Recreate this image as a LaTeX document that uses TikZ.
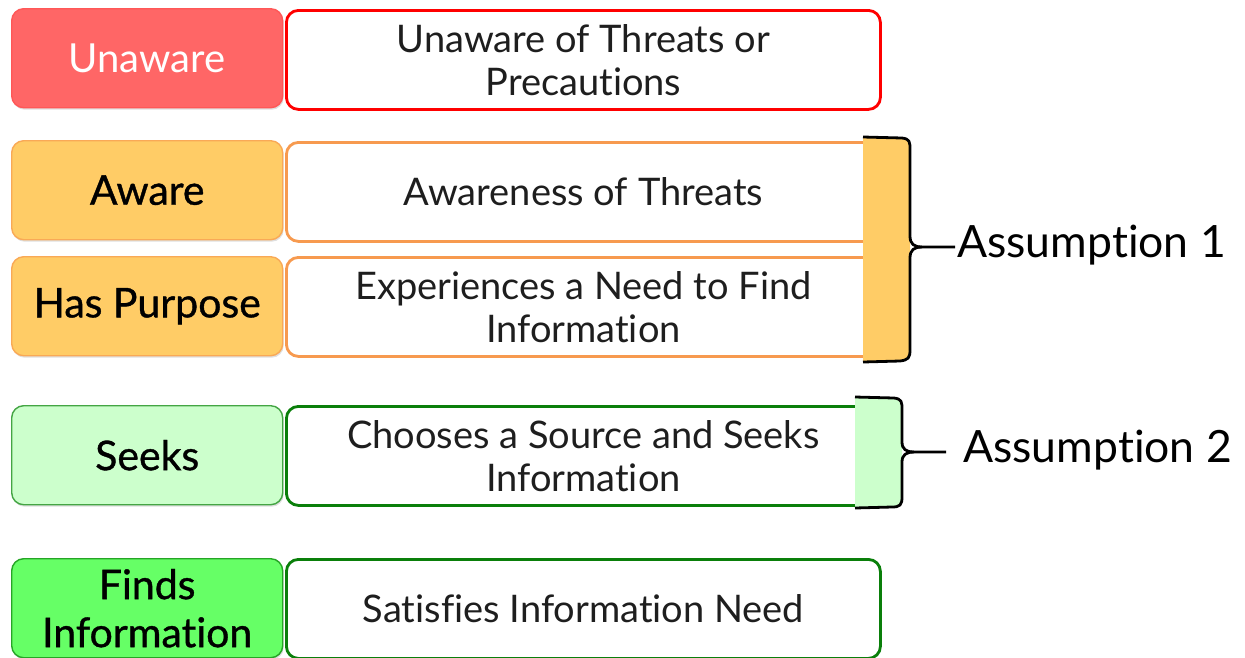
\documentclass[tikz,border=0pt]{standalone}
\usepackage{fontspec}
\setmainfont{Lato}[Ligatures=NoCommon]
\newfontfamily\medfont[FakeBold=0.9,Ligatures=NoCommon]{Lato}
\usetikzlibrary{shadows}
\definecolor{redfill}{HTML}{FF6666}
\definecolor{redline}{HTML}{FF0000}
\definecolor{orfill}{HTML}{FFCC66}
\definecolor{orline}{HTML}{F79A4F}
\definecolor{lgfill}{HTML}{CCFFCC}
\definecolor{gfill}{HTML}{66FF66}
\definecolor{gline}{HTML}{0A7F0A}
\definecolor{txt}{HTML}{1E1E1E}
\begin{document}
\begin{tikzpicture}[x=1pt,y=-1pt,
  stage/.style={draw, line width=1.4pt, rounded corners=12pt, anchor=north west,
    minimum width=271pt, minimum height=99pt, inner sep=0pt, align=center,
    text=black, font=\medfont\fontsize{41}{48}\selectfont,
    drop shadow={shadow xshift=1pt, shadow yshift=-2pt, opacity=0.25}},
  desc/.style={draw, line width=2.8pt, rounded corners=12pt, fill=white, anchor=north west,
    minimum height=99pt, inner sep=0pt, align=center, text=txt,
    font=\fontsize{38}{43}\selectfont},
  bracefill/.style={line width=2.8pt, line join=round},
  asm/.style={anchor=west, inner sep=0pt, text=black, font=\fontsize{44.5}{50}\selectfont}]
\useasboundingbox (0,0) rectangle (1245,657);
\clip (0,0) rectangle (1245,657);

% stage labels
\node[stage, fill=redfill, draw=redfill!85!red, text=white,
  font=\fontsize{40}{48}\selectfont] (s1) at (11,8) {Unaware};
\node[stage, fill=orfill, draw=orline!70!orfill] (s2) at (11,140) {Aware};
\node[stage, fill=orfill, draw=orline!70!orfill] (s3) at (11,256) {Has Purpose};
\node[stage, fill=lgfill, draw=gline!70!lgfill] (s4) at (11,405) {Seeks};
\node[stage, fill=gfill, draw=gline!70!gfill] (s5) at (11,558) {Finds\\Information};

% descriptions
\node[desc, draw=redline, minimum width=594pt] (d1) at (285,9) {Unaware of Threats or\\Precautions};
\node[desc, draw=orline, minimum width=594pt] (d2) at (285,141) {Awareness of Threats};
\node[desc, draw=orline, minimum width=594pt] (d3) at (285,256) {Experiences a Need to Find\\Information};
\node[desc, draw=gline, minimum width=594pt] (d4) at (285,405) {Chooses a Source and Seeks\\Information};
\node[desc, draw=gline, minimum width=594pt] (d5) at (285,558) {Satisfies Information Need};

% brace for assumption 1
\fill[orfill] (863,137) -- (902,138) .. controls (910,139) and (910,142) .. (910,150)
  -- (910,350) .. controls (910,358) and (908,360) .. (900,361) -- (863,362) -- cycle;
\draw[bracefill] (863,137) -- (902,138) .. controls (910,139) and (910,142) .. (910,150)
  -- (910,236) .. controls (910,244) and (914,247) .. (922,247) -- (955,247);
\draw[bracefill] (922,247) .. controls (914,247) and (910,250) .. (910,258)
  -- (910,350) .. controls (910,358) and (908,360) .. (900,361) -- (863,362);
\node[asm] (a1) at (957,245) {Assumption 1};

% brace for assumption 2
\fill[lgfill] (855,397) -- (894,398) .. controls (902,399) and (902,402) .. (902,410)
  -- (902,497) .. controls (902,505) and (900,507) .. (892,507) -- (855,508) -- cycle;
\draw[bracefill] (855,397) -- (894,398) .. controls (902,399) and (902,402) .. (902,410)
  -- (902,442) .. controls (902,449) and (906,452) .. (914,452) -- (946,452);
\draw[bracefill] (914,452) .. controls (906,452) and (902,455) .. (902,462)
  -- (902,497) .. controls (902,505) and (900,507) .. (892,507) -- (855,508);
\node[asm] (a2) at (963,450) {Assumption 2};
\end{tikzpicture}
\end{document}
